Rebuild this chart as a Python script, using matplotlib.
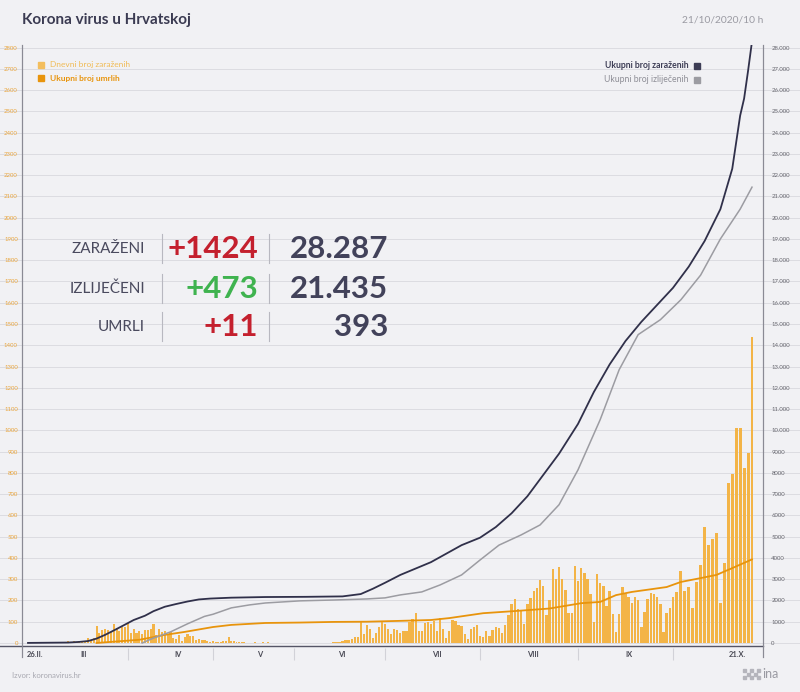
import numpy as np
import matplotlib.pyplot as plt
from matplotlib.patches import Rectangle

plt.rcParams['font.family'] = ['Lato', 'DejaVu Sans']

#---------------- DATA (26.2. - 21.10.2020, day 0 = 26.2.) ----------------
feb = [2, 0, 2, 1]
mar = [1, 0, 0, 2, 1, 1, 1, 2, 2, 0, 7, 6, 8, 6, 11, 8, 9, 24, 16, 23,
       78, 48, 61, 67, 60, 53, 91, 71, 56, 77, 77]
apr = [96, 48, 68, 47, 56, 40, 60, 61, 64, 88, 39, 66, 50, 54, 37, 50, 23,
       18, 39, 10, 27, 42, 31, 35, 14, 17, 15, 14, 9, 3]
may = [11, 5, 3, 5, 8, 10, 29, 7, 7, 4, 6, 4, 3, 2, 2, 1, 3, 2, 2, 4, 0,
       3, 1, 1, 2, 1, 0, 1, 2, 1, 0]
jun = [0, 0, 1, 1, 0, 1, 0, 0, 1, 2, 2, 1, 2, 3, 3, 4, 8, 12, 15, 20, 30,
       26, 97, 41, 86, 65, 25, 49, 73, 97]
jul = [89, 65, 41, 68, 60, 49, 54, 57, 97, 113, 140, 54, 54, 92, 97, 89,
       102, 57, 117, 65, 25, 57, 108, 105, 86, 81, 41, 17, 65, 76, 86]
aug = [33, 30, 57, 33, 60, 75, 70, 48, 84, 131, 183, 209, 160, 155, 89,
       183, 210, 245, 260, 295, 270, 130, 200, 350, 300, 355, 300, 250,
       140, 140, 360]
sep = [292, 351, 327, 300, 230, 97, 323, 280, 269, 175, 245, 136, 50, 136,
       261, 230, 214, 190, 218, 202, 74, 147, 205, 237, 229, 218, 184, 53,
       140, 165]
okt = [218, 238, 339, 245, 262, 163, 289, 367, 547, 461, 489, 519, 187,
       375, 751, 794, 1013, 1010, 822, 893, 1440]
daily = np.array(feb + mar + apr + may + jun + jul + aug + sep + okt)
days = np.arange(len(daily))

# ukupno zarazenih (day, value)
total_day = [0, 14, 18, 21, 24, 27, 30, 34, 37, 41, 44, 48, 52, 56, 60, 64,
             72, 85, 100, 112, 118, 122, 126, 131, 136, 141, 146, 151, 157,
             162, 167, 172, 177, 182, 188, 193, 198, 203, 208, 213, 218,
             222, 226, 230, 233, 235, 236, 237, 238]
total_val = [3, 20, 50, 90, 206, 382, 586, 867, 1079, 1282, 1495, 1704,
             1832, 1950, 2047, 2088, 2130, 2160, 2170, 2190, 2300, 2550,
             2830, 3200, 3500, 3800, 4200, 4600, 4950, 5450, 6100, 6900,
             7900, 8900, 10300, 11800, 13100, 14200, 15100, 15900, 16700,
             17700, 18900, 20400, 22300, 24800, 25600, 26900, 28287]

# ukupno izlijecenih (day, value)
rec_day = [40, 44, 50, 56, 62, 65, 72, 79, 85, 98, 109, 120, 126, 131, 138,
           144, 151, 157, 163, 170, 176, 182, 188, 195, 201, 207, 214, 220,
           225, 230, 235, 238]
rec_val = [0, 230, 520, 900, 1250, 1350, 1650, 1790, 1880, 1980, 2020,
           2070, 2120, 2260, 2400, 2730, 3200, 3900, 4600, 5080, 5550, 6500,
           8140, 10500, 12850, 14500, 15200, 16140, 17300, 19000, 20400,
           21435]

# ukupno umrlih (day, value)
death_day = [24, 39, 48, 55, 65, 72, 85, 98, 109, 120, 131, 141, 147, 158,
             168, 179, 189, 195, 200, 205, 216, 220, 225, 229, 233, 238]
death_val = [0, 15, 38, 52, 75, 85, 94, 96, 99, 100, 104, 108, 117, 140,
             150, 162, 187, 193, 225, 240, 263, 287, 305, 320, 352, 393]

stats = [('ZARAŽENI', '+1424', '#c4202e', '28.287'),
         ('IZLIJEČENI', '+473', '#3fb34f', '21.435'),
         ('UMRLI', '+11', '#c4202e', '393')]

month_labels = ['26.II.', 'III', 'IV', 'V', 'VI', 'VII', 'VIII', 'IX', '21.X.']
month_label_day = [2.3, 19.3, 52.5, 83, 111.8, 143, 173.8, 204, 234.2]
month_start = [35, 65, 96, 126, 157, 188, 218]

#---------------- SCALE: the x axis is stretched unevenly per month ---------
knot_day = [-10, 0, 35, 65, 96, 126, 157, 188, 218, 238, 250]
knot_pos = [-0.6, 28, 128, 213, 294, 385, 480, 578, 673, 752, 799.4]

def fwd(d):
    return np.interp(d, knot_day, knot_pos)

def inv(p):
    return np.interp(p, knot_pos, knot_day)

#---------------- FIGURE ----------------
bg = '#f1f1f4'
fig = plt.figure(figsize=(8, 6.92), dpi=100, facecolor=bg)
W, H = 800, 692
ax = fig.add_axes([22 / W, 1 - 657 / H, 741 / W, 612 / H])
ax.set_facecolor('none')
ax.set_xscale('function', functions=(fwd, inv))
ax.set_xlim(inv(22), inv(763))
ax.set_ylim(-66, 2812)

ax2 = ax.twinx()
ax2.set_ylim(-660, 28120)

for v in range(0, 2900, 100):
    ax.axhline(v, xmin=-22 / 741, xmax=778 / 741, color='#dcdce1', lw=0.7,
               zorder=0, clip_on=False)
ax.axhline(-14, xmin=-22 / 741, xmax=1, color='#555566', lw=1.0,
           zorder=3, clip_on=False)

ax.bar(days, daily, width=0.74, color='#f3b447', zorder=2)
ax.plot(death_day, death_val, color='#e8940c', lw=1.3, zorder=4)
ax2.plot(rec_day, rec_val, color='#9c9ca2', lw=1.1)
ax2.plot(total_day, total_val, color='#30304a', lw=1.3)

for a in (ax, ax2):
    for s in ('top', 'bottom'):
        a.spines[s].set_visible(False)
    a.spines['left'].set_color('#8a8a94')
    a.spines['right'].set_color('#8a8a94')
    a.set_xticks([])

ax.set_yticks(range(0, 2900, 100))
ax.set_yticklabels([str(v) for v in range(0, 2900, 100)])
ax.tick_params(axis='y', length=0, pad=3, labelsize=4.3, labelcolor='#e9a53c')
right_ticks = range(0, 29000, 1000)
ax2.set_yticks(right_ticks)
ax2.set_yticklabels([f'{v // 1000}.000' if v >= 10000 else str(v)
                     for v in right_ticks])
ax2.tick_params(axis='y', length=0, pad=6, labelsize=4.3, labelcolor='#66666e')

for lab, d in zip(month_labels, month_label_day):
    ax.text(d, -52, lab, ha='center', va='center', fontsize=5.4,
            fontweight='bold', color='#4a4a55')
ax.vlines(month_start, -80, -24, colors='#d2d2d8', lw=0.8, clip_on=False)

# title & date
fig.text(22 / W, 1 - 20 / H, 'Korona virus u Hrvatskoj', fontsize=11,
         fontweight='bold', color='#3b3b52', va='center')
fig.text(763 / W, 1 - 20 / H, '21/10/2020/10 h', fontsize=7.4, ha='right',
         va='center', color='#9a9aa2')

# legends
fig.patches.append(Rectangle((38 / W, 1 - 68 / H), 6 / W, 6 / H,
                             transform=fig.transFigure, color='#f3be5e'))
fig.patches.append(Rectangle((38 / W, 1 - 81 / H), 6 / W, 6 / H,
                             transform=fig.transFigure, color='#e8940c'))
fig.text(50 / W, 1 - 65 / H, 'Dnevni broj zaraženih', fontsize=6,
         color='#f0bb55', va='center')
fig.text(50 / W, 1 - 78 / H, 'Ukupni broj umrlih', fontsize=6,
         fontweight='bold', color='#e8940c', va='center')
fig.patches.append(Rectangle((694 / W, 1 - 69 / H), 6 / W, 6 / H,
                             transform=fig.transFigure, color='#3d3d55'))
fig.patches.append(Rectangle((694 / W, 1 - 83 / H), 6 / W, 6 / H,
                             transform=fig.transFigure, color='#9c9ca2'))
fig.text(689 / W, 1 - 66 / H, 'Ukupni broj zaraženih', fontsize=6.2,
         fontweight='bold', color='#3d3d55', va='center', ha='right')
fig.text(689 / W, 1 - 80 / H, 'Ukupni broj izliječenih', fontsize=6.2,
         color='#8e8e96', va='center', ha='right')

# stats box
row_y = [249, 289, 327]
for (name, delta, col, tot), y in zip(stats, row_y):
    yy = 1 - y / H
    fig.text(145 / W, yy, name, fontsize=11, color='#4a4a5e', ha='right',
             va='center')
    fig.text(258 / W, yy, delta, fontsize=22.5, fontweight='bold', color=col,
             ha='right', va='center')
    fig.text(388 / W, yy, tot, fontsize=22.5, fontweight='bold',
             color='#42425a', ha='right', va='center')
    for sx in (162, 269):
        fig.lines.append(plt.Line2D([sx / W, sx / W],
                                    [yy - 14 / H, yy + 15 / H],
                                    transform=fig.transFigure,
                                    color='#b8b8c0', lw=0.8))

# footer
fig.text(12 / W, 1 - 675 / H, 'Izvor: koronavirus.hr', fontsize=5.5,
         color='#a8a8b0', va='center')
for i in range(5):
    for j in range(3):
        if (i + j) % 2 == 0:
            fig.patches.append(Rectangle(((743 + i * 3.5) / W,
                                          1 - (679 - j * 3.5) / H),
                                         3 / W, 3 / H,
                                         transform=fig.transFigure,
                                         color='#b5b5bc'))
fig.text(762 / W, 1 - 674 / H, 'ina', fontsize=9, color='#9a9aa2',
         va='center')

fig.savefig('out.png', dpi=100, facecolor=bg)
